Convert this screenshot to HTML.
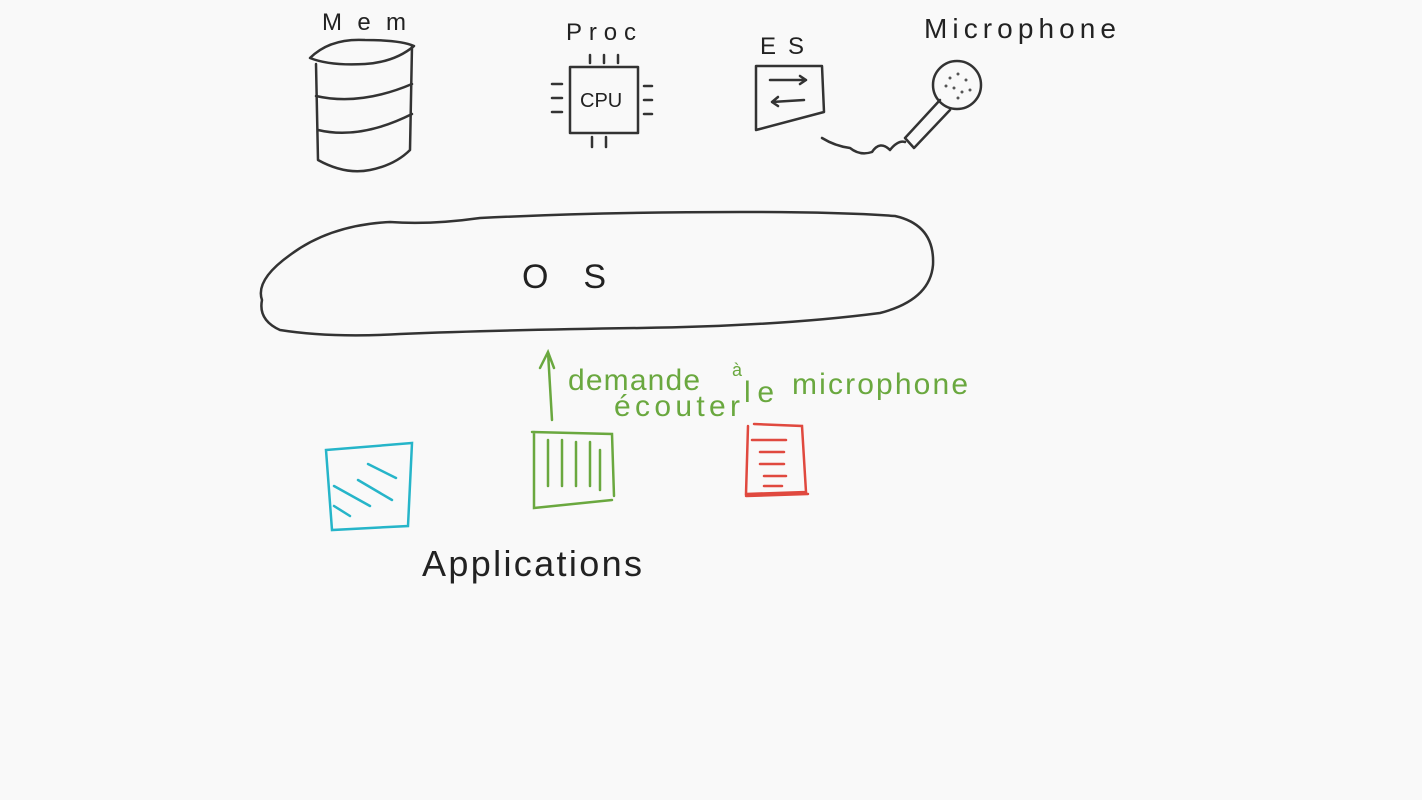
<!DOCTYPE html>
<html><head><meta charset="utf-8"><style>
html,body{margin:0;padding:0;background:#f9f9f9;width:1422px;height:800px;overflow:hidden}
svg{display:block}
text{font-family:"Liberation Sans",sans-serif}
</style></head><body>
<svg width="1422" height="800" viewBox="0 0 1422 800" xmlns="http://www.w3.org/2000/svg">
<rect width="1422" height="800" fill="#f9f9f9"/>
<g fill="none" stroke="#333" stroke-width="2.5" stroke-linecap="round" stroke-linejoin="round">
<path d="M310 58 Q330 38 365 40 Q400 40 414 46 Q395 62 365 64 Q330 66 310 58 Z"/>
<path d="M316 64 L318 160 Q345 175 370 170 Q395 165 410 150 L412 46"/>
<path d="M316 96 Q360 106 412 84"/>
<path d="M318 130 Q360 140 412 114"/>
<rect x="570" y="67" width="68" height="66"/>
<path d="M590 55v8M604 55v8M618 55v8M592 137v10M606 137v10M552 84h10M552 98h10M552 112h10M644 86h8M644 100h8M644 114h8"/>
<path d="M756 66 L822 66 L824 112 L756 130 Z"/>
<path d="M770 80 L806 80 M800 76 L806 80 L800 84 M772 102 L804 100 M778 97 L772 102 L778 106"/>
<circle cx="957" cy="85" r="24"/>
<path d="M940 100 L905 138 L914 148 L950 110"/>
<path d="M822 138 Q835 146 850 148 Q860 156 872 152 Q880 140 890 150 Q898 140 905 142"/>
<path d="M262 300 Q255 280 290 255 Q330 225 390 222 Q430 225 480 218 Q600 212 740 212 Q840 212 895 216 Q935 225 933 265 Q930 300 880 313 Q780 326 640 328 Q500 330 400 334 Q330 338 280 330 Q258 320 262 300 Z"/>
</g>
<g fill="#555">
<circle cx="950" cy="78" r="1.5"/><circle cx="958" cy="74" r="1.5"/><circle cx="966" cy="80" r="1.5"/><circle cx="954" cy="88" r="1.5"/><circle cx="962" cy="92" r="1.5"/><circle cx="946" cy="86" r="1.5"/><circle cx="970" cy="90" r="1.5"/><circle cx="958" cy="98" r="1.5"/>
</g>
<g fill="#222">
<text x="322" y="30" font-size="24" textLength="84" lengthAdjust="spacing">Mem</text>
<text x="566" y="40" font-size="24" textLength="70" lengthAdjust="spacing">Proc</text>
<text x="580" y="107" font-size="20">CPU</text>
<text x="760" y="54" font-size="24" textLength="44" lengthAdjust="spacing">ES</text>
<text x="924" y="38" font-size="28" textLength="192" lengthAdjust="spacing">Microphone</text>
<text x="522" y="288" font-size="34" textLength="84" lengthAdjust="spacing">OS</text>
<text x="422" y="576" font-size="36" textLength="220" lengthAdjust="spacing">Applications</text>
</g>
<g fill="none" stroke="#6aa83f" stroke-width="2.5" stroke-linecap="round">
<path d="M552 420 L548 352 M540 368 L548 352 L554 368"/>
<path d="M532 432 L612 434 L614 496 M534 432 L534 508 L612 500 M548 440v46M562 440v46M576 442v44M590 442v44M600 450v40"/>
</g>
<g fill="#6aa83f">
<text x="568" y="390" font-size="30" textLength="132" lengthAdjust="spacing">demande</text>
<text x="732" y="376" font-size="18">à</text>
<text x="614" y="416" font-size="30" textLength="126" lengthAdjust="spacing">écouter</text>
<text x="744" y="402" font-size="30" textLength="30" lengthAdjust="spacing">le</text>
<text x="792" y="394" font-size="30" textLength="176" lengthAdjust="spacing">microphone</text>
</g>
<g fill="none" stroke="#26b5c9" stroke-width="2.5" stroke-linecap="round">
<path d="M326 450 L412 443 L408 526 L332 530 Z"/>
<path d="M368 464 L396 478 M358 480 L392 500 M334 486 L370 506 M334 506 L350 516"/>
</g>
<g fill="none" stroke="#e0493f" stroke-width="2.5" stroke-linecap="round">
<path d="M754 424 L802 426 L806 492 L746 494 L748 426 M752 440h34M760 452h24M760 464h24M764 476h22M764 486h18M808 494 L746 496"/>
</g>
</svg>
</body></html>
